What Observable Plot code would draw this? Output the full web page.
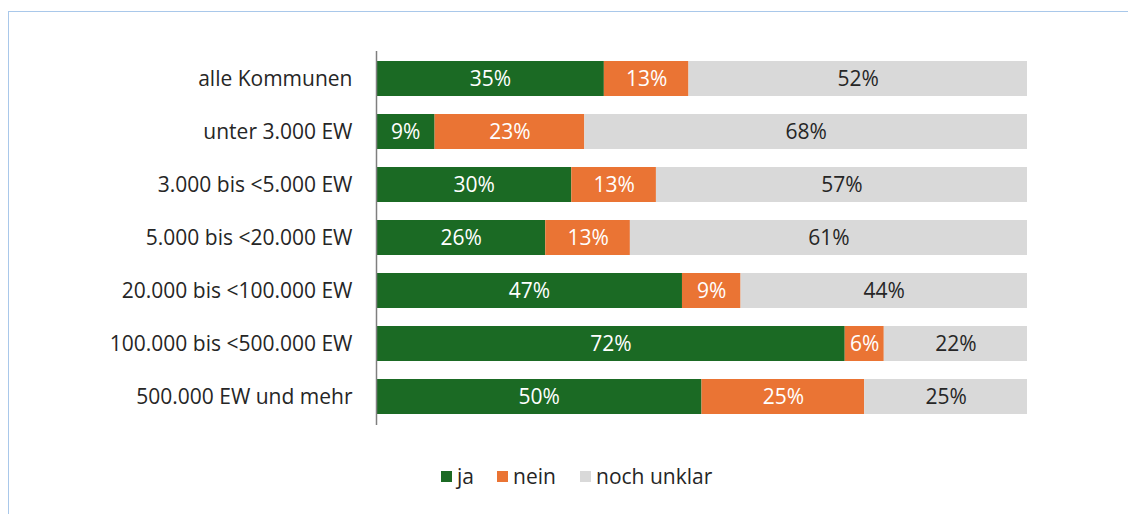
<!DOCTYPE html>
<html><head><meta charset="utf-8">
<script src="https://cdn.jsdelivr.net/npm/d3@7"></script>
<script src="https://cdn.jsdelivr.net/npm/@observablehq/plot@0.6"></script>
<style>
body{margin:0;background:#fff;font-family:"Open Sans",sans-serif;}
#wrap{position:relative;width:1128px;height:514px;overflow:hidden;background:#fff}
#frame{position:absolute;left:8px;top:11px;right:-5px;bottom:-5px;border-left:1.5px solid #a9c8ea;border-top:1.5px solid #a9c8ea}
#chart{position:absolute;left:0;top:0}
#legend{position:absolute;top:462px;left:0;width:1128px;height:28px;font-size:21px;color:#262626;line-height:28px}
#legend .it{position:absolute;top:0;display:flex;align-items:center;white-space:nowrap}
#legend .sw{width:11px;height:11px;margin-right:5px;display:inline-block}
</style></head>
<body><div id="wrap"><div id="frame"></div><div id="chart"></div><div id="legend"></div></div>
<script>
const categories = ["alle Kommunen","unter 3.000 EW","3.000 bis <5.000 EW","5.000 bis <20.000 EW","20.000 bis <100.000 EW","100.000 bis <500.000 EW","500.000 EW und mehr"];
const series = ["ja","nein","noch unklar"];
const colors = ["#1b6a24","#ea7434","#d9d9d9"];
const ja = [35,9,30,26,47,72,50];
const nein = [13,23,13,13,9,6,25];
const unklar = [52,68,57,61,44,22,25];

const values = [ja, nein, unklar];
const data = [];
categories.forEach((c, i) => {
  let start = 0;
  series.forEach((s, j) => {
    const v = values[j][i];
    data.push({cat: c, series: s, value: v, mid: start + v / 2});
    start += v;
  });
});

const chart = Plot.plot({
  width: 1128, height: 450,
  marginLeft: 376, marginRight: 101, marginTop: 51, marginBottom: 25,
  x: {domain: [0, 100], axis: null},
  y: {domain: categories, paddingInner: 0.335, paddingOuter: 0.17, label: null, tickSize: 0, tickPadding: 24},
  color: {domain: series, range: colors},
  style: {fontFamily: "'Open Sans', sans-serif", fontSize: "21px", color: "#262626", background: "transparent"},
  marks: [
    Plot.barX(data, Plot.stackX({x: "value", y: "cat", fill: "series", order: null})),
    Plot.text(data.filter(d => d.series !== "noch unklar"), {x: "mid", y: "cat", text: d => d.value + "%", fill: "#fff", fontSize: 21}),
    Plot.text(data.filter(d => d.series === "noch unklar"), {x: "mid", y: "cat", text: d => d.value + "%", fill: "#262626", fontSize: 21}),
    Plot.ruleX([0], {stroke: "#7f7f7f", strokeWidth: 1.5})
  ]
});
document.getElementById("chart").appendChild(chart);

const legendX = [441, 497, 580];
const lg = document.getElementById("legend");
series.forEach((s, i) => {
  const it = document.createElement("span");
  it.className = "it";
  it.style.left = legendX[i] + "px";
  const sw = document.createElement("span");
  sw.className = "sw";
  sw.style.background = colors[i];
  it.appendChild(sw);
  it.appendChild(document.createTextNode(s));
  lg.appendChild(it);
});
</script></body></html>
